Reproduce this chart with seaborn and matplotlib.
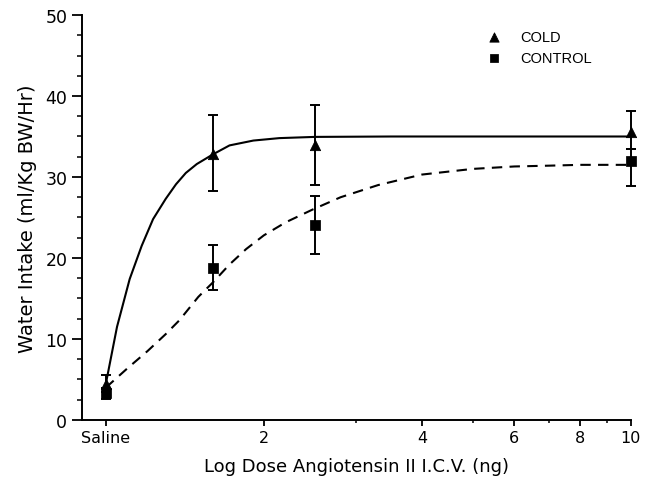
import numpy as np
import pandas as pd
import seaborn as sns
import matplotlib.pyplot as plt
from matplotlib.ticker import FixedLocator, NullFormatter

# dose 1 stands for saline on the log axis
doses = [1, 1.6, 2.5, 10]
cold_mean = [4.4, 32.9, 34.0, 35.6]
cold_lo = [3.4, 28.3, 29.0, 33.4]
cold_hi = [5.5, 37.6, 38.9, 38.1]
control_mean = [3.3, 18.8, 24.1, 32.0]
control_lo = [2.6, 16.0, 20.5, 28.9]
control_hi = [4.0, 21.6, 27.7, 33.4]

# fitted curves
cold_fit_x = [1.0, 1.05, 1.11, 1.17, 1.23, 1.30, 1.36, 1.42, 1.49, 1.60, 1.72, 1.91, 2.14, 2.5, 3.5, 5, 7, 10]
cold_fit_y = [4.5, 11.5, 17.4, 21.5, 24.8, 27.3, 29.1, 30.5, 31.6, 32.8, 33.9, 34.5, 34.8, 34.95, 35.0, 35.0, 35.0, 35.0]
ctrl_fit_x = [1.0, 1.1, 1.2, 1.3, 1.38, 1.5, 1.6, 1.72, 1.85, 2.0, 2.2, 2.48, 2.8, 3.3, 4.0, 5.0, 6.0, 7.0, 8.0, 10.0]
ctrl_fit_y = [4.0, 6.4, 8.5, 10.6, 12.3, 15.2, 17.0, 19.2, 21.1, 22.8, 24.4, 26.0, 27.5, 29.0, 30.3, 31.0, 31.3, 31.4, 31.5, 31.5]

cold = pd.DataFrame({'dose': doses, 'intake': cold_mean})
control = pd.DataFrame({'dose': doses, 'intake': control_mean})

sns.set_style('ticks')
plt.rcParams['font.family'] = ['DejaVu Sans']
plt.rcParams['text.color'] = 'black'
plt.rcParams['axes.labelcolor'] = 'black'
plt.rcParams['xtick.color'] = 'black'
plt.rcParams['ytick.color'] = 'black'
plt.rcParams['axes.edgecolor'] = 'black'

fig = plt.figure(figsize=(6.55, 4.85), dpi=100)
ax = fig.add_axes([0.125, 0.132, 0.838, 0.835])

# curves
sns.lineplot(x=cold_fit_x, y=cold_fit_y, ax=ax, color='black', linewidth=1.5)
sns.lineplot(x=ctrl_fit_x, y=ctrl_fit_y, ax=ax, color='black', linewidth=1.5,
             linestyle=(0, (5, 3.5)))

# error bars
for mean, lo, hi in [(cold_mean, cold_lo, cold_hi), (control_mean, control_lo, control_hi)]:
    eb = ax.errorbar(doses, mean,
                     yerr=[np.array(mean) - np.array(lo), np.array(hi) - np.array(mean)],
                     fmt='none', ecolor='black', elinewidth=1.4, capsize=3.5, capthick=1.4)
    for part in eb.lines[1] + eb.lines[2]:
        part.set_clip_on(False)

# markers
sns.scatterplot(data=cold, x='dose', y='intake', marker='^', s=55, color='black',
                edgecolor='black', ax=ax, label='COLD', zorder=5, clip_on=False)
sns.scatterplot(data=control, x='dose', y='intake', marker='s', s=45, color='black',
                edgecolor='black', ax=ax, label='CONTROL', zorder=5, clip_on=False)

ax.set_xscale('log')
ax.set_xlim(0.9, 10)
ax.set_ylim(0, 50)
ax.set_xticks([1, 2, 4, 6, 8, 10])
ax.set_xticklabels(['Saline', '2', '4', '6', '8', '10'])
ax.xaxis.set_minor_locator(FixedLocator([3, 5, 7, 9]))
ax.xaxis.set_minor_formatter(NullFormatter())
ax.set_yticks([0, 10, 20, 30, 40, 50])
ax.yaxis.set_minor_locator(FixedLocator(np.arange(0, 50.1, 2.5)))

ax.tick_params(axis='y', which='major', length=7, width=1.3, labelsize=12.5, direction='out')
ax.tick_params(axis='y', which='minor', length=3.5, width=1.1, direction='out')
ax.tick_params(axis='x', which='major', length=4, width=1.3, labelsize=11.5, direction='out')
ax.tick_params(axis='x', which='minor', length=2.5, width=1.1, direction='out')

for s in ['top', 'right']:
    ax.spines[s].set_visible(False)
for s in ['left', 'bottom']:
    ax.spines[s].set_linewidth(1.4)

ax.set_xlabel('Log Dose Angiotensin II I.C.V. (ng)', fontsize=13, labelpad=8)
ax.set_ylabel('Water Intake (ml/Kg BW/Hr)', fontsize=14, labelpad=6)

ax.legend(loc='upper left', bbox_to_anchor=(0.70, 0.995), frameon=False,
          prop={'family': 'Liberation Sans', 'size': 10.5}, handletextpad=0.8,
          labelspacing=0.45, markerscale=0.9)

fig.savefig('out.png', dpi=100)
